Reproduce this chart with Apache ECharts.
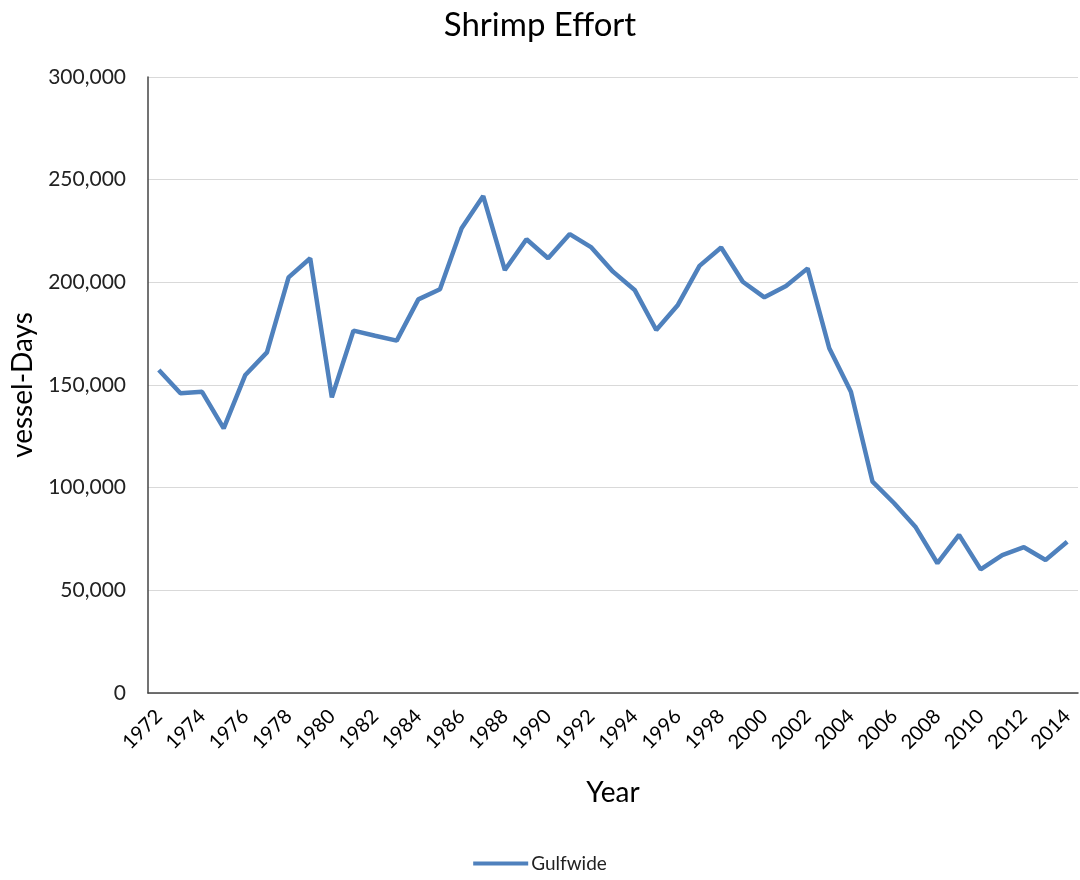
<!DOCTYPE html>
<html>
<head>
<meta charset="utf-8">
<script src="https://cdn.jsdelivr.net/npm/echarts@6/dist/echarts.min.js"></script>
<style>
  html, body { margin: 0; padding: 0; background: #fff; }
  #main { width: 1080px; height: 880px; }
</style>
</head>
<body>
<div id="main"></div>
<script>
// years 1972-2014
let years = ['1972','1973','1974','1975','1976','1977','1978','1979','1980','1981',
  '1982','1983','1984','1985','1986','1987','1988','1989','1990','1991',
  '1992','1993','1994','1995','1996','1997','1998','1999','2000','2001',
  '2002','2003','2004','2005','2006','2007','2008','2009','2010','2011',
  '2012','2013','2014']

// vessel-days
let gulfwide = [157300, 146000, 146700, 128900, 154900, 165900, 202400, 211700, 144000, 176500,
  174000, 171600, 191700, 196600, 226300, 242000, 206000, 221000, 211700, 223500,
  217000, 205200, 196300, 176800, 189000, 208000, 217000, 200300, 192700, 198200,
  206800, 167900, 146700, 102900, 92400, 80700, 63200, 77000, 60200, 67200,
  71000, 64800, 73700]

let yTicks = [0, 50000, 100000, 150000, 200000, 250000, 300000]

let font = 'Lato'
let chart = echarts.init(document.getElementById('main'))

chart.setOption({
  animation: false,
  backgroundColor: '#fff',
  textStyle: { fontFamily: font },
  title: {
    text: 'Shrimp Effort',
    left: 'center',
    top: 4,
    textStyle: { fontSize: 33, fontWeight: 'normal', color: '#000', fontFamily: font }
  },
  legend: {
    data: ['Gulfwide'],
    bottom: 2,
    left: 'center',
    icon: 'rect',
    itemWidth: 55,
    itemHeight: 4,
    itemGap: 6,
    textStyle: { fontSize: 19, color: '#222', fontFamily: font, padding: [0, 0, 0, -2] }
  },
  grid: { left: 148, right: 2, top: 77, bottom: 187 },
  xAxis: {
    type: 'category',
    data: years,
    boundaryGap: true,
    name: 'Year',
    nameLocation: 'middle',
    nameGap: 86,
    nameTextStyle: { fontSize: 28, color: '#000', fontFamily: font },
    axisLine: { lineStyle: { color: '#444', width: 1.5 } },
    axisTick: { show: false },
    axisLabel: { interval: 1, rotate: 45, fontSize: 20, color: '#000', margin: 20, fontFamily: font }
  },
  yAxis: {
    type: 'value',
    min: yTicks[0],
    max: yTicks[yTicks.length - 1],
    interval: 50000,
    name: 'vessel-Days',
    nameLocation: 'middle',
    nameGap: 104,
    nameTextStyle: { fontSize: 28, color: '#000', fontFamily: font },
    axisLine: { show: true, lineStyle: { color: '#444', width: 1.5 } },
    axisTick: { show: false },
    splitLine: { lineStyle: { color: '#d9d9d9', width: 1 } },
    axisLabel: {
      fontSize: 21,
      color: '#222',
      margin: 22,
      fontFamily: font,
      formatter: function (v) { return v.toLocaleString('en-US') }
    }
  },
  series: [{
    name: 'Gulfwide',
    type: 'line',
    data: gulfwide,
    symbol: 'none',
    lineStyle: { color: '#4f81bd', width: 4.5 },
    itemStyle: { color: '#4f81bd' }
  }]
})
</script>
</body>
</html>
